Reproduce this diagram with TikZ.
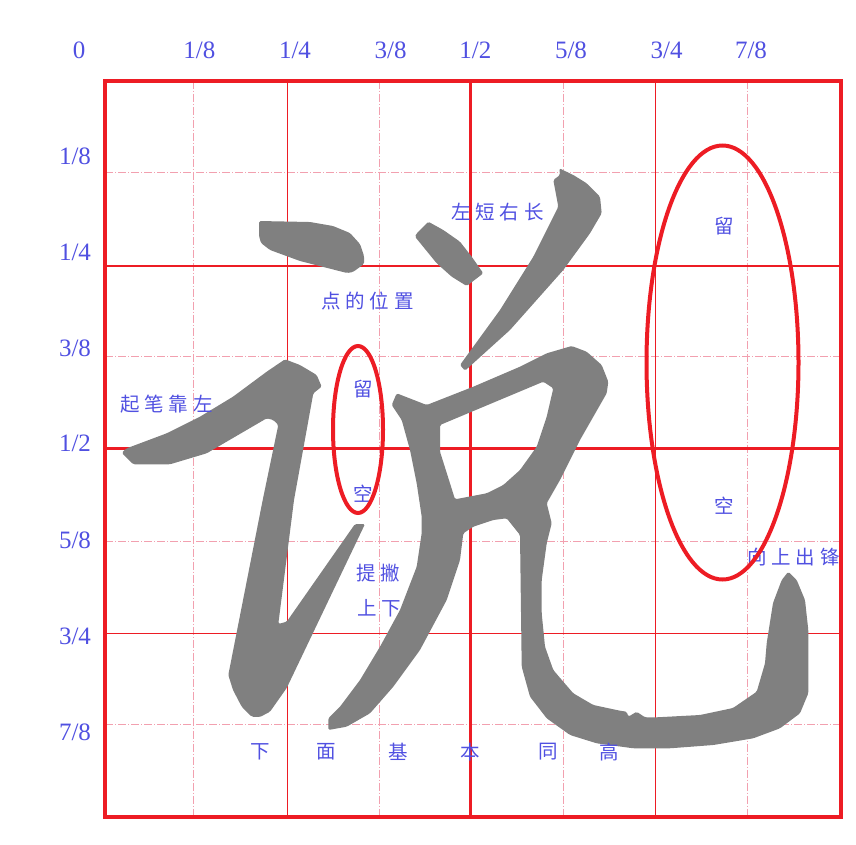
\documentclass[tikz,border=0pt]{standalone}
\usepackage{fontspec}
\newfontfamily\numfont{Liberation Serif}
\newfontfamily\cjk[LetterSpace=25]{Noto Sans CJK SC}
\newfontfamily\cjkone{Noto Sans CJK SC}
\definecolor{gridred}{RGB}{237,28,36}
\definecolor{gridpink}{RGB}{242,160,175}
\definecolor{inkblue}{RGB}{80,80,225}
\definecolor{brush}{RGB}{128,128,128}

\begin{document}
\begin{tikzpicture}[x=1pt,y=-1pt,
    num/.style={text=inkblue,font=\numfont\fontsize{25}{25}\selectfont,inner sep=0pt},
    note/.style={text=inkblue,font=\cjk\fontsize{19.5}{19.5}\selectfont,inner sep=0pt,anchor=west},
    word/.style={text=inkblue,font=\cjkone\fontsize{19.5}{19.5}\selectfont,inner sep=0pt},
    thinline/.style={gridred,line width=1.2pt},
    halfline/.style={gridpink,line width=1pt,dash pattern=on 8pt off 2pt on 1pt off 2pt},
    ring/.style={gridred,line width=4pt}]
  \useasboundingbox (0,0) rectangle (856,844);
  % grid
  \foreach \x in {193.3,379.3,563.3,747.7}
    \draw[halfline] (\x,80.5) -- (\x,817.3);
  \foreach \y in {172.3,356.7,541.3,724.3}
    \draw[halfline] (105.3,\y) -- (840.5,\y);
  \foreach \x in {287.3,655.3}
    \draw[thinline] (\x,80.5) -- (\x,817.3);
  \foreach \y in {266,633.3}
    \draw[thinline] (105.3,\y) -- (840.5,\y);
  \draw[gridred,line width=2.5pt] (470.7,80.5) -- (470.7,817.3);
  \draw[gridred,line width=2.5pt] (105.3,448.3) -- (840.5,448.3);
  \draw[gridred,line width=4pt] (105.3,80.5) rectangle (840.5,817.3);

  % scale
  \foreach \t/\x [count=\i] in {0/79,{1/8}/199.3,{1/4}/295,{3/8}/390.7,{1/2}/475.3,{5/8}/571,{3/4}/666.7,{7/8}/751}
    \node[num] (top\i) at (\x,50) {\t};
  \foreach \t/\y [count=\i] in {{1/8}/156,{1/4}/252.7,{3/8}/348.3,{1/2}/443.3,{5/8}/540.7,{3/4}/636,{7/8}/732.3}
    \node[num] (left\i) at (75,\y) {\t};

  % the character
  \begin{scope}[rounded corners=1.5pt]
  \fill[brush] (259,221) -- (310,222) -- (333,226) -- (350,233) -- (360,244) -- (364,256)
    -- (364,264) -- (353,272) -- (347,273) -- (300,261) -- (270,250) -- (261,243) -- (259,236) -- cycle;
  \fill[brush] (121.7,452.7) -- (126.7,448.3) -- (166.7,433.3) -- (200,416.7) -- (233,396.7)
    -- (266.7,371.7) -- (285,359.3) -- (300,365) -- (316.7,375) -- (321.7,386.7) -- (313.3,393.3)
    -- (294,500) -- (278.3,624) -- (286.7,621.7) -- (355,524) -- (365,524) -- (286.7,688)
    -- (270,711.7) -- (260,717) -- (251.7,716.7) -- (241.7,706.7) -- (233,690) -- (228.3,675)
    -- (262.7,500) -- (278.3,425) -- (273.3,420) -- (266.7,418.3) -- (206.7,453.3) -- (170,464.3)
    -- (133.3,464.3) -- cycle;
  \fill[brush] (428.3,221.7) -- (443.3,230) -- (460,241.7) -- (471.7,256.7) -- (483.3,273.3)
    -- (466.7,286) -- (451.7,276.7) -- (436.7,263.3) -- (415,236.7) -- (416.7,233.3) -- cycle;
  \fill[brush] (559.3,168.3) -- (573.3,175) -- (586.7,183.3) -- (600,196.7) -- (601.7,213.3)
    -- (590,233.3) -- (563.3,270) -- (510,330) -- (465,370.7) -- (460,365) -- (500,310)
    -- (533.3,256.7) -- (558.3,206.7) -- (553.3,180) -- (560,175) -- cycle;
  \fill[brush,even odd rule] (396.7,393.3) -- (426.7,405) -- (473.3,386.7) -- (520,366.7)
    -- (546.7,353.3) -- (571.7,346) -- (586.7,351.7) -- (601.7,365) -- (608.3,381.7) -- (606.7,393.3)
    -- (580,440) -- (560,480) -- (546.7,503.3) -- (551.7,523.3) -- (546.7,543.3) -- (541.7,580)
    -- (541.7,613.3) -- (545,646.7) -- (553.3,670) -- (563.3,681.7) -- (573.3,693.3) -- (593.3,705)
    -- (620,710.7) -- (626.7,711.7) -- (628.3,716.7) -- (636.7,711.7) -- (645,717.3) -- (656.7,717.3)
    -- (700,715) -- (733,708) -- (756.7,691.7) -- (765,663.3) -- (766.7,643) -- (773,603)
    -- (781.7,580) -- (788.3,571.7) -- (796.7,580) -- (805,600) -- (808.3,630) -- (808.3,693.3)
    -- (800,713.3) -- (780,728.3) -- (753.3,738.3) -- (713.3,745) -- (670,748.3) -- (633.3,748.3)
    -- (596.7,743.3) -- (570,735) -- (546.7,718.3) -- (530,696.7) -- (521.7,666.7) -- (520,535)
    -- (506.7,518.3) -- (493.3,520) -- (473.3,526.7) -- (463.3,533.3) -- (460,560) -- (446.7,600)
    -- (420,650) -- (393.3,686.7) -- (370,713.3) -- (346.7,726.7) -- (328.3,730) -- (328.3,718.3)
    -- (340,706.7) -- (360,680) -- (380,646.7) -- (400,610) -- (416.7,566.7) -- (421.7,533)
    -- (421.7,516.7) -- (416.7,483.3) -- (410,450) -- (401.7,420) -- (391.7,405) -- cycle
    (440,425) -- (543.3,381.7) -- (553.3,388.3) -- (546.7,416.7) -- (536.7,446.7) -- (520,470)
    -- (503.3,485) -- (486.7,493.3) -- (455,499.3) -- (450,483.3) -- (440,451.7) -- cycle;
  \end{scope}

  % notes
  \node[note] (short) at (451,212) {左短右长};
  \node[note] (dot) at (321,301) {点的位置};
  \node[note] (start) at (120,404) {起笔靠左};
  \node[note] (lift) at (356,573.5) {提撇};
  \node[note] (updown) at (357,608) {上下};
  \node[note] (hook) at (747,557) {向上出锋};
  \node[word] (keep1) at (363,389) {留};
  \node[word] (gap1) at (363,494) {空};
  \node[word] (keep2) at (724,226) {留};
  \node[word] (gap2) at (724,506) {空};
  \foreach \c/\x [count=\i] in {下/260,面/326,基/398,本/470,同/548,高/609}
    \node[word] (base\i) at (\x,752) {\c};

  \draw[ring] (358,429.5) ellipse [x radius=25,y radius=83.5];
  \draw[ring] (722.5,362.5) ellipse [x radius=76,y radius=217];
\end{tikzpicture}
\end{document}
